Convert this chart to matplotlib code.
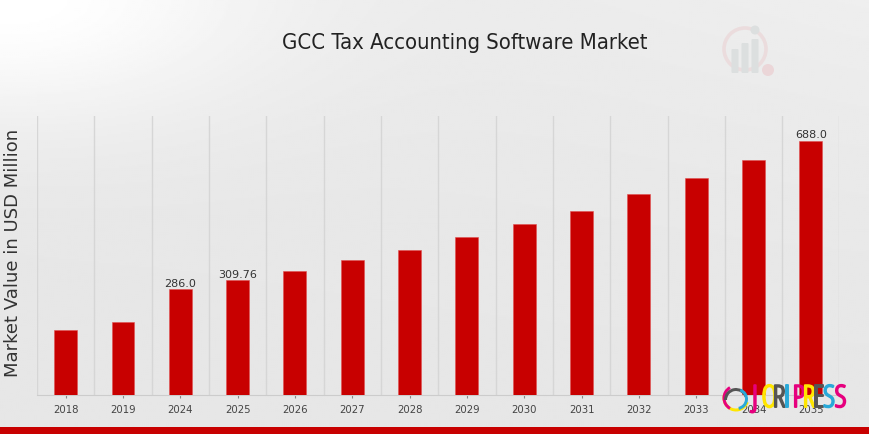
import numpy as np
import matplotlib
matplotlib.use("Agg")
import matplotlib.pyplot as plt
import matplotlib.patheffects as pe
from matplotlib.patches import Circle, Rectangle, FancyBboxPatch, Wedge

years = ["2018", "2019", "2024", "2025", "2026", "2027", "2028", "2029",
         "2030", "2031", "2032", "2033", "2034", "2035"]
values = [176, 198, 286.0, 309.76, 336, 364, 393, 427, 463, 499, 543, 587, 635, 688.0]
labelled = {"2024": "286.0", "2025": "309.76", "2035": "688.0"}
title = "GCC Tax Accounting Software Market"
ylabel = "Market Value in USD Million"
logo_letters = ["J", "O", "R", "I", "P", "R", "E", "S", "S"]
logo_colors = ["#e6007e", "#ffe600", "#555555", "#29a9d8", "#e6007e", "#ffe600", "#555555", "#29a9d8", "#e6007e"]
logo_x = [752, 761.5, 772.5, 784, 792.5, 802.5, 813, 823, 834.5]

W, H = 870, 435
fig = plt.figure(figsize=(W / 100, H / 100), dpi=100)

# background gradient
bg = fig.add_axes([0, 0, 1, 1], zorder=0)
yy, xx = np.mgrid[0:1:218j, 0:1:436j]
g = 0.905 + 0.095 * np.exp(-((xx / 0.30) ** 2 + (yy / 0.28) ** 2)) + 0.03 * xx * (1 - yy) ** 2
bg.imshow(np.clip(g, 0, 1), cmap="gray", vmin=0, vmax=1, extent=[0, W, H, 0], aspect="auto")
bg.set_xlim(0, W); bg.set_ylim(H, 0); bg.axis("off")
bg.add_patch(Rectangle((0, 427.5), W, 7.5, color="#c80000", lw=0))

# watermark logo
bg.add_patch(Circle((745, 50), 21, fill=False, ec="#ebdcdd", lw=2.6))
bg.add_patch(Circle((768, 71), 6, color="#ebd6d8", lw=0))
for x, top in [(735, 51), (745, 45), (755, 41)]:
    bg.add_patch(FancyBboxPatch((x - 2.5, top), 5, 73 - top, boxstyle="round,pad=1", color="#dcdfdf", lw=0))
bg.add_patch(Circle((755, 31), 4.5, color="#dcdfdf", lw=0))

# main chart
ax = fig.add_axes([37 / W, 1 - 395.5 / H, (839.5 - 37) / W, (395.5 - 116.5) / H], zorder=1)
ax.patch.set_alpha(0)
x = np.arange(len(years))
bars = ax.bar(x, values, width=0.4, color="#c80000", edgecolor="#e05050", linewidth=0.4, zorder=3)
ax.set_xlim(-0.5, len(years) - 0.5)
ax.set_ylim(0, max(values) * 1.1)
ax.set_xticks(x, years, fontsize=7.3, color="#444444")
ax.set_yticks([])
ax.tick_params(axis="x", length=2, color="#888888", pad=5)
for b in np.arange(-0.5, len(years)):
    ax.axvline(b, color="#d6d6d6", lw=1.0, zorder=1)
for s in ["top", "right", "left"]:
    ax.spines[s].set_visible(False)
ax.spines["bottom"].set_color("#cccccc")
for xi, y, v in zip(x, years, values):
    if y in labelled:
        ax.annotate(labelled[y], (xi, v), xytext=(0, 1), textcoords="offset points",
                    ha="center", va="bottom", fontsize=8, color="#333333", zorder=4)

fig.text(465 / W, 1 - 43 / H, title, ha="center", va="center", fontsize=15.8,
         family="DejaVu Sans", color="#222222", zorder=5, fontstretch="condensed")
fig.text(13 / W, 1 - 253 / H, ylabel, rotation=90, ha="center", va="center",
         fontsize=13, color="#333333", zorder=5)

# foreground logo
logo = fig.add_axes([0, 0, 1, 1], zorder=6)
logo.patch.set_alpha(0); logo.axis("off")
logo.set_xlim(0, W); logo.set_ylim(H, 0)
logo.add_patch(Wedge((736, 399), 13.5, 20, 200, width=3, color="#ffe600", lw=0))
logo.add_patch(Wedge((736, 399), 13.5, 120, 240, width=3, color="#e6007e", lw=0))
logo.add_patch(Wedge((736, 401), 12, 180, 340, width=3, color="#555555", lw=0))
logo.add_patch(Wedge((737, 400), 11, 290, 80, width=3, color="#29a9d8", lw=0))
for ch, col, lx in zip(logo_letters, logo_colors, logo_x):
    logo.text(lx, 400, ch, color=col, fontsize=22, family="Open Sans", fontstretch="condensed",
              ha="left", va="center",
              path_effects=[pe.withStroke(linewidth=1.4, foreground=col)])

fig.savefig("out.png", dpi=100)
